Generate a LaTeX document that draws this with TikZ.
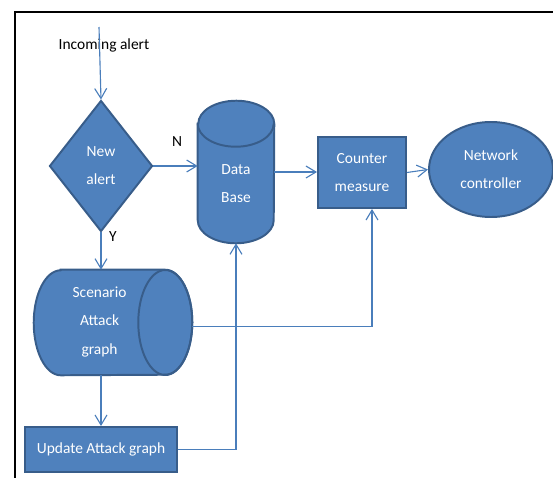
\documentclass[tikz,border=0pt]{standalone}
\usepackage{fontspec}
\setmainfont{Carlito}
\usetikzlibrary{shapes.geometric}
\usetikzlibrary{arrows.meta}
\usepackage{xcolor}
\definecolor{ofblue}{RGB}{79,129,189}
\definecolor{ofedge}{RGB}{56,93,138}
\definecolor{ofline}{RGB}{74,126,187}

\begin{document}
\begin{tikzpicture}[
	blk/.style={fill=ofblue, draw=ofedge, line width=1.4pt, text=white, align=center, inner sep=0pt, font=\fontsize{11}{20}\selectfont},
	txt/.style={text=white, align=center, inner sep=0pt, font=\fontsize{11}{20}\selectfont},
	hull/.style={draw=none, fill=none, rectangle, inner sep=0pt},
	conn/.style={color=ofline, line width=0.8pt, -{Straight Barb[length=2.5mm,width=3mm]}},
	lbl/.style={font=\fontsize{11}{13}\selectfont}
	]
	\useasboundingbox (0,0) rectangle (13.825,-11.95);
	\draw[line width=2.1pt] (0.375,-11.95) -- (0.375,-0.3) -- (13.825,-0.3);
	
	\node[lbl] (inc) at (2.6,-1.125) {Incoming alert};
	\coordinate (start) at (2.475,-0.675);
	
	\node[blk, diamond, aspect=0.79, minimum width=2.575cm, minimum height=3.275cm] (newalert) at (2.525,-4.15) {New\\alert};
	\node[blk, rectangle, minimum width=2.2cm, minimum height=1.775cm] (cm) at (9.05,-4.3125) {Counter\\measure};
	\node[blk, ellipse, minimum width=3.1cm, minimum height=2.375cm] (nc) at (12.275,-4.2375) {Network\\controller};
	\node[blk, rectangle, minimum width=3.8cm, minimum height=1.125cm] (upd) at (2.525,-11.2375) {Update Attack graph};
	
	% data base, standing cylinder
	\node[hull, minimum width=1.9cm, minimum height=3.55cm] (db) at (5.9,-4.3) {};
	\filldraw[blk] ([yshift=-0.575cm]db.north west) -- ([yshift=0.575cm]db.south west)
		arc[start angle=180, end angle=360, x radius=0.95cm, y radius=0.575cm]
		-- ([yshift=-0.575cm]db.north east)
		arc[start angle=0, end angle=180, x radius=0.95cm, y radius=0.575cm] -- cycle;
	\draw[blk, fill=none] ([yshift=-0.575cm]db.north west) arc[start angle=180, end angle=360, x radius=0.95cm, y radius=0.575cm];
	\node[txt] (dbtxt) at ([yshift=-0.3cm]db.center) {Data\\Base};
	
	% scenario, lying cylinder
	\node[hull, minimum width=3.95cm, minimum height=2.625cm] (scen) at (2.825,-8.0625) {};
	\filldraw[blk] ([xshift=0.675cm]scen.north west) -- ([xshift=-0.675cm]scen.north east)
		arc[start angle=90, end angle=-90, x radius=0.675cm, y radius=1.3125cm]
		-- ([xshift=0.675cm]scen.south west)
		arc[start angle=270, end angle=90, x radius=0.675cm, y radius=1.3125cm] -- cycle;
	\draw[blk, fill=none] ([xshift=-0.675cm]scen.east) ellipse [x radius=0.675cm, y radius=1.3125cm];
	\node[txt] (scentxt) at (2.49,-8.05) {Scenario\\Attack\\graph};
	
	\node[lbl] (nlab) at (4.425,-3.55) {N};
	\node[lbl] (ylab) at (2.825,-5.925) {Y};
	
	%% connectors
	\draw[conn] (start) -- (newalert.north);
	\draw[conn] (newalert.east) -- (newalert.east -| db.west);
	\draw[conn] (db.east) -- (db.east -| cm.west);
	\draw[conn] (cm.east) -- (nc.west);
	\draw[conn] (newalert.south) -- (newalert.south |- scen.north);
	\draw[conn] (upd.north |- scen.south) -- (upd.north);
	\draw[conn] ([yshift=-0.1cm]scen.east) -| ([xshift=0.25cm]cm.south);
	\draw[conn] (upd.east) -| (db.south);
	
\end{tikzpicture}
\end{document}
